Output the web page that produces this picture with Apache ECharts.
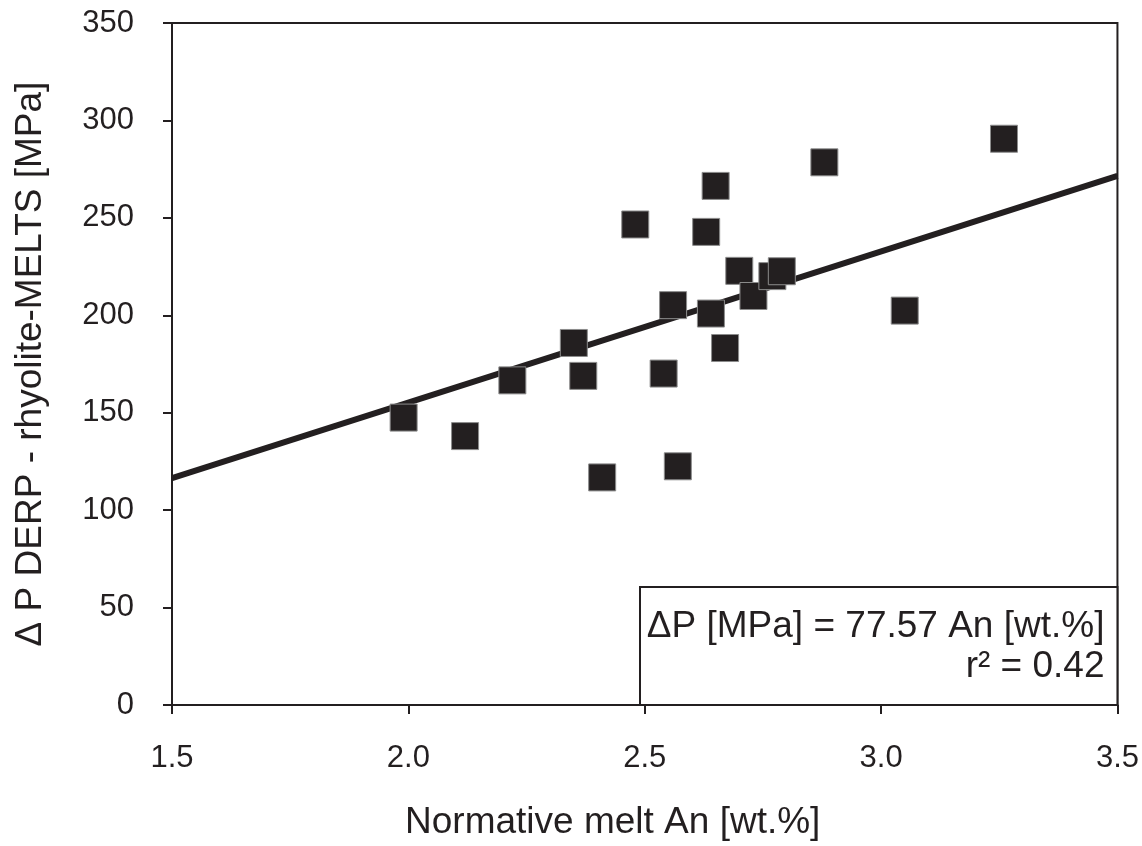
<!DOCTYPE html>
<html>
<head>
<meta charset="utf-8">
<script src="https://cdn.jsdelivr.net/npm/echarts@6/dist/echarts.min.js"></script>
<style>
html,body{margin:0;padding:0;background:#fff}
#chart{width:1142px;height:846px}
</style>
</head>
<body>
<div id="chart"></div>
<script>
// normative melt An [wt.%] and pressure difference [MPa]
var anValues = [1.99, 2.12, 2.22, 2.35, 2.37, 2.41, 2.48, 2.54, 2.56, 2.57, 2.63,
                2.64, 2.65, 2.67, 2.70, 2.73, 2.77, 2.79, 2.88, 3.05, 3.26];
var dpValues = [147.5, 138.0, 166.6, 185.8, 168.9, 116.8, 246.6, 170.1, 205.2, 122.5, 242.8,
                200.9, 266.4, 183.2, 222.8, 209.9, 220.1, 222.6, 278.5, 202.4, 290.6];
// fit line dP = 77.57 An, end points
var fitAn = [1.5, 3.5];
var fitDp = [116.4, 271.5];
var eqLines = ['\u0394P [MPa] = 77.57 An [wt.%]', 'r\u00b2 = 0.42'];
// box corner in data units (left-top)
var boxCorner = [2.49, 60.5];

var ink = '#231f20';
var font = '"Liberation Sans", Arial, sans-serif';

drawChart();

function drawChart(){
    var chart = echarts.init(document.getElementById('chart'));
    var points = [];
    for (var i = 0; i < anValues.length; i++) points.push([anValues[i], dpValues[i]]);
    var fit = [];
    for (var j = 0; j < fitAn.length; j++) fit.push([fitAn[j], fitDp[j]]);

    var option = {
        animation: false,
        backgroundColor: '#fff',
        textStyle: {fontFamily: font, color: ink},
        grid: {left: 172, right: 24, top: 23, bottom: 141, show: true, borderColor: ink, borderWidth: 2},
        xAxis: {
            type: 'value', min: 1.5, max: 3.5, interval: 0.5,
            name: 'Normative melt An [wt.%]',
            nameLocation: 'middle', nameGap: 99,
            nameTextStyle: {fontSize: 37, color: ink, fontFamily: font, padding: [0, 64, 0, 0]},
            axisLine: {show: true, lineStyle: {color: ink, width: 2}},
            axisTick: {show: true, length: 9, lineStyle: {color: ink, width: 2}},
            axisLabel: {fontSize: 31, color: ink, margin: 38, fontFamily: font,
                formatter: function(v){ return v.toFixed(1); }},
            splitLine: {show: false}
        },
        yAxis: {
            type: 'value', min: 0, max: 350, interval: 50,
            name: '\u0394 P DERP - rhyolite-MELTS [MPa]',
            nameLocation: 'middle', nameGap: 123,
            nameTextStyle: {fontSize: 37, color: ink, fontFamily: font},
            axisLine: {show: true, lineStyle: {color: ink, width: 2}},
            axisTick: {show: true, length: 9, lineStyle: {color: ink, width: 2}},
            axisLabel: {fontSize: 31, color: ink, margin: 38, fontFamily: font},
            splitLine: {show: false}
        },
        series: [
            {
                type: 'line', data: fit, symbol: 'none', z: 2,
                lineStyle: {color: ink, width: 6}
            },
            {
                type: 'scatter', data: points, symbol: 'rect', symbolSize: 27, z: 3,
                itemStyle: {color: ink, borderColor: '#8c8c8c', borderWidth: 1, opacity: 1}
            }
        ]
    };
    chart.setOption(option);

    // equation box, placed through the axes' scales
    var tl = chart.convertToPixel({gridIndex: 0}, boxCorner);
    var br = chart.convertToPixel({gridIndex: 0}, [3.5, 0]);
    chart.setOption({
        graphic: [
            {
                type: 'rect', z: 10,
                shape: {x: tl[0], y: tl[1], width: br[0] - tl[0], height: br[1] - tl[1]},
                style: {fill: '#fff', stroke: ink, lineWidth: 2}
            },
            {
                type: 'text', z: 11, x: br[0] - 13, y: tl[1] + 40,
                style: {text: eqLines[0], font: '37px ' + font, fill: ink, textAlign: 'right', textVerticalAlign: 'middle'}
            },
            {
                type: 'text', z: 11, x: br[0] - 13, y: tl[1] + 80,
                style: {text: eqLines[1], font: '37px ' + font, fill: ink, textAlign: 'right', textVerticalAlign: 'middle'}
            }
        ]
    });
}
</script>
</body>
</html>
